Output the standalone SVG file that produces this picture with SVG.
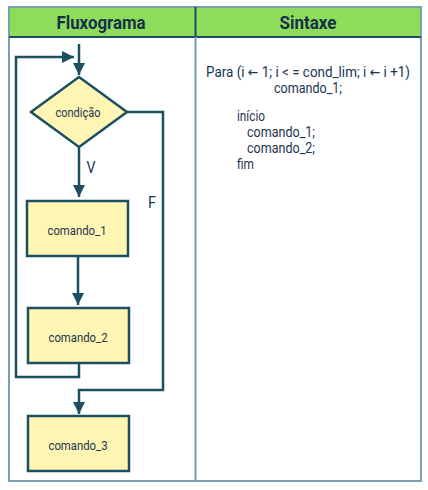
<svg xmlns="http://www.w3.org/2000/svg" width="428" height="490" viewBox="0 0 428 490">
<defs>
<style>
.hdr{font-family:Roboto,"Liberation Sans",sans-serif;font-weight:bold;font-size:18px;fill:#16304a;text-anchor:middle}
.lbl{font-family:Roboto,"Liberation Sans",sans-serif;font-size:13px;fill:#1b3550;text-anchor:middle;dominant-baseline:central}
.code{font-family:Roboto,"Liberation Sans",sans-serif;font-size:15px;fill:#1b3550}
.arr{font-family:"DejaVu Sans",sans-serif;font-size:14px}
.box{fill:#fff6b4;stroke:#1d4f63;stroke-width:2.5}
.ln{fill:none;stroke:#1d4f63;stroke-width:2.5}
</style>
<marker id="ah" viewBox="0 0 10 10" refX="10" refY="5" markerWidth="5" markerHeight="5" orient="auto" markerUnits="strokeWidth">
<path d="M0,0 L10,5 L0,10 z" fill="#1d4f63"/>
</marker>
</defs>
<rect x="0" y="0" width="428" height="490" fill="#ffffff"/>
<g id="table">
<rect x="9" y="7" width="412" height="30" fill="#8ddc5a"/>
<rect x="9" y="7" width="412" height="474" fill="none" stroke="#7aa0ae" stroke-width="2"/>
<line x1="9" y1="37" x2="421" y2="37" stroke="#1d4f63" stroke-width="2"/>
<line x1="195.5" y1="7" x2="195.5" y2="37" stroke="#1d4f63" stroke-width="2"/>
<line x1="195.5" y1="37" x2="195.5" y2="481" stroke="#7aa0ae" stroke-width="2"/>
<text class="hdr" x="101" y="29" textLength="89" lengthAdjust="spacingAndGlyphs">Fluxograma</text>
<text class="hdr" x="308" y="29" textLength="57" lengthAdjust="spacingAndGlyphs">Sintaxe</text>
</g>
<g id="connectors">
<line class="ln" x1="79" y1="44" x2="79" y2="75" marker-end="url(#ah)"/>
<polyline class="ln" points="79,363 79,377 16,377 16,57 74,57" marker-end="url(#ah)"/>
<line class="ln" x1="79" y1="147" x2="79" y2="197" marker-end="url(#ah)"/>
<line class="ln" x1="78" y1="256" x2="78" y2="305" marker-end="url(#ah)"/>
<polyline class="ln" points="127,112 163,112 163,390 79,390 79,414" marker-end="url(#ah)"/>
<text class="lbl" x="91" y="167" style="font-size:17px" textLength="9" lengthAdjust="spacingAndGlyphs">V</text>
<text class="lbl" x="152" y="202" style="font-size:17px" textLength="8" lengthAdjust="spacingAndGlyphs">F</text>
</g>
<g id="condicao">
<polygon class="box" points="79,77 127,112 79,147 31,112"/>
<text class="lbl" x="78" y="112" textLength="45" lengthAdjust="spacingAndGlyphs">condição</text>
</g>
<g id="comando_1">
<rect class="box" x="27" y="201" width="101" height="55"/>
<text class="lbl" x="77" y="230" textLength="59" lengthAdjust="spacingAndGlyphs">comando_1</text>
</g>
<g id="comando_2">
<rect class="box" x="28" y="308" width="101" height="55"/>
<text class="lbl" x="78" y="337" textLength="59" lengthAdjust="spacingAndGlyphs">comando_2</text>
</g>
<g id="comando_3">
<rect class="box" x="28" y="416" width="101" height="55"/>
<text class="lbl" x="78" y="445" textLength="59" lengthAdjust="spacingAndGlyphs">comando_3</text>
</g>
<g id="sintaxe">
<text class="code" x="206" y="77" textLength="204" lengthAdjust="spacingAndGlyphs">Para (i <tspan class="arr">←</tspan> 1; i &lt; = cond_lim; i <tspan class="arr">←</tspan> i +1)</text>
<text class="code" x="274" y="93" textLength="68" lengthAdjust="spacingAndGlyphs">comando_1;</text>
<text class="code" x="237" y="121" textLength="28" lengthAdjust="spacingAndGlyphs">início</text>
<text class="code" x="247" y="137" textLength="68" lengthAdjust="spacingAndGlyphs">comando_1;</text>
<text class="code" x="247" y="153" textLength="68" lengthAdjust="spacingAndGlyphs">comando_2;</text>
<text class="code" x="237" y="169" textLength="17" lengthAdjust="spacingAndGlyphs">fim</text>
</g>
</svg>
